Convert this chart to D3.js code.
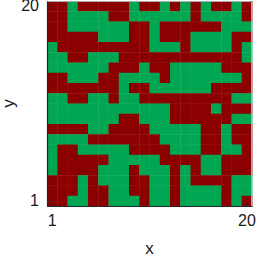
<!DOCTYPE html>
<html>
<head>
<meta charset="utf-8">
<script src="https://cdn.jsdelivr.net/npm/d3@7"></script>
<style>
  body { margin: 0; background: #fff; }
  svg { display: block; font-family: "Liberation Sans", Arial, sans-serif; }
</style>
</head>
<body>
<div id="chart"></div>
<script>
// grid categories
var xCats = d3.range(1, 21);
var yCats = d3.range(20, 0, -1);   // top row first
var xTicks = [1, 20];
var yTicks = [20, 1];

// cell states, one string per row from y=20 down to y=1 (1 = green, 0 = red)
var rows = [
  "00100000100101010010",
  "00111100111111011110",
  "00111111001000000111",
  "00000111001000111100",
  "10000000001110111101",
  "11001110000000000001",
  "11111100010011111000",
  "00111001111011111110",
  "00000001001111110000",
  "11001101100000000011",
  "11111111111100001000",
  "11111110011100000011",
  "00001100001111100100",
  "11110000000111100100",
  "10011111000011100110",
  "10000011111000011000",
  "10000111011101011000",
  "00010111001101000011",
  "00010011001101111011",
  "00110011101101111010"
];

var colors = {0: "#8b0000", 1: "#00a651"};

var margin = {top: 1, right: 6, bottom: 52, left: 47};
var width = 258 - margin.left - margin.right,
    height = 258 - margin.top - margin.bottom;

var cells = [];
rows.forEach(function(r, i) {
  r.split("").forEach(function(c, j) {
    cells.push({x: xCats[j], y: yCats[i], v: +c});
  });
});

var svg = d3.select("#chart")
  .append("svg")
    .attr("width", 258)
    .attr("height", 258)
  .append("g")
    .attr("transform", "translate(" + margin.left + "," + margin.top + ")");

var x = d3.scaleBand().domain(xCats).range([0, width]);
var y = d3.scaleBand().domain(yCats).range([0, height]);

svg.selectAll("rect.cell")
  .data(cells)
  .enter()
  .append("rect")
    .attr("class", "cell")
    .attr("x", function(d) { return x(d.x); })
    .attr("y", function(d) { return y(d.y); })
    .attr("width", x.bandwidth() + 0.4)
    .attr("height", y.bandwidth() + 0.4)
    .attr("fill", function(d) { return colors[d.v]; });

// light box edges on top/right
svg.append("path")
  .attr("d", "M0,0.5H" + (width - 0.5) + "V" + height)
  .attr("fill", "none")
  .attr("stroke", "#aaa")
  .attr("stroke-width", 1);

// axes
var xAxis = svg.append("g")
  .attr("transform", "translate(0," + height + ")")
  .call(d3.axisBottom(x).tickValues(xTicks).tickSizeInner(-3).tickSizeOuter(0).tickPadding(9));
var yAxis = svg.append("g")
  .call(d3.axisLeft(y).tickValues(yTicks).tickSizeInner(-3).tickSizeOuter(0).tickPadding(8));

[xAxis, yAxis].forEach(function(a) {
  a.select(".domain").attr("stroke", "#262626").attr("stroke-width", 1.2);
  a.selectAll(".tick line").attr("stroke", "#262626");
  a.selectAll("text")
    .attr("fill", "#1a1a1a")
    .style("font-size", "16px")
    .style("font-family", "'Liberation Sans', Arial, sans-serif");
});

// axis titles
svg.append("text")
  .attr("x", width / 2)
  .attr("y", height + 48)
  .attr("text-anchor", "middle")
  .attr("fill", "#1a1a1a")
  .style("font-size", "17px")
  .text("x");

svg.append("text")
  .attr("transform", "rotate(-90)")
  .attr("x", -height / 2)
  .attr("y", -33)
  .attr("text-anchor", "middle")
  .attr("fill", "#1a1a1a")
  .style("font-size", "17px")
  .text("y");
</script>
</body>
</html>
